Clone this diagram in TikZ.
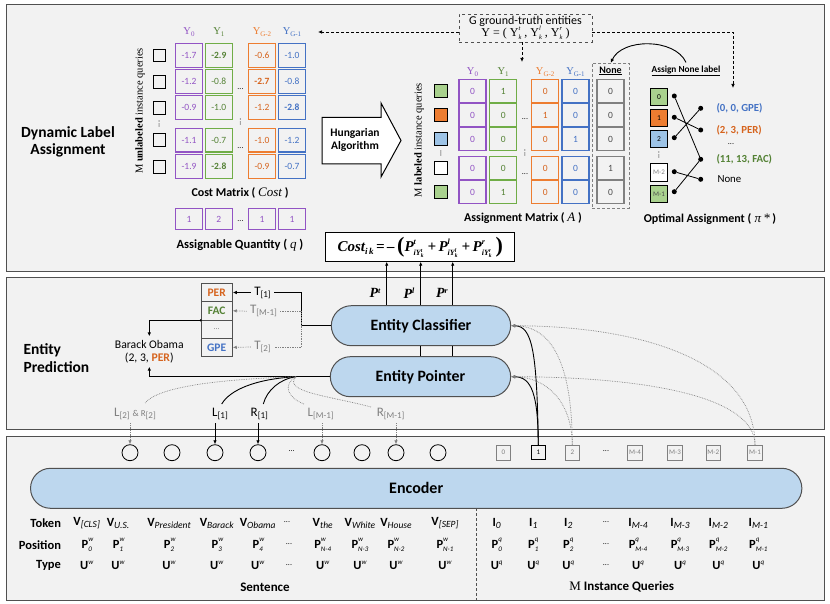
\documentclass[tikz,border=0pt]{standalone}
\usepackage{graphicx}
\usepackage{fontspec}
\setmainfont{Carlito}
\newfontfamily\serif{Liberation Serif}
\usetikzlibrary{arrows.meta,shapes.misc,calc}
\definecolor{bgc}{HTML}{F2F2F2}
\definecolor{pur}{RGB}{146,84,196}
\definecolor{grn}{RGB}{112,173,71}
\definecolor{grnT}{RGB}{84,130,53}
\definecolor{org}{RGB}{237,125,49}
\definecolor{orgT}{RGB}{214,100,30}
\definecolor{blu}{RGB}{68,114,196}
\definecolor{lblue}{RGB}{189,215,238}
\definecolor{qblue}{RGB}{157,195,230}
\definecolor{qgreen}{RGB}{169,209,142}
\definecolor{frame}{RGB}{80,80,80}
\definecolor{gtxt}{RGB}{128,128,128}
\newcommand\fs[1]{\fontsize{#1}{#1}\selectfont}
\newcommand\tk[2]{\textbf{#1}\raisebox{-2pt}{\fs{9.5}\itshape #2}}
\newcommand\ps[3]{\textbf{#1}\makebox[0pt][l]{\raisebox{6.5pt}{\fs{7}\itshape #2}}\raisebox{-3pt}{\fs{7}\itshape #3}}
\newcommand\ut[1]{\textbf{U}\raisebox{5pt}{\fs{7}\itshape #1}}
\newcommand\YK[1]{Y\makebox[0pt][l]{\raisebox{5.5pt}{\fs{6.5}\itshape #1}}\raisebox{-3.5pt}{\fs{6.5}\itshape k}}
\newcommand\sbt[1]{\raisebox{-1.5pt}{\fs{7}#1}}
\newcommand\sbb[1]{\raisebox{-2pt}{\fs{9}#1}}
\newcommand\Pq[1]{P\makebox[0pt][l]{\raisebox{7pt}{\fs{8}#1}}\raisebox{-4.5pt}{\fs{8}iY\makebox[0pt][l]{\raisebox{3.5pt}{\fs{5.5}#1}}\raisebox{-2pt}{\fs{5.5}k}}\hspace{4pt}}
\newcommand\costformula{{\serif\bfseries\itshape\fs{15}Cost\raisebox{-3pt}{\fs{9}i\,k}\,=\,–\,\raisebox{-1pt}{\upshape\fs{22}(}\Pq{t}+\,\Pq{l}+\,\Pq{r}\raisebox{-1pt}{\upshape\fs{22})}}}
\newcommand\bp[1]{{\serif\bfseries\itshape\fs{14}P\raisebox{4.5pt}{\fs{8}#1}}}
\begin{document}
\begin{tikzpicture}[x=1pt,y=-1pt,
  panel/.style={draw=frame,line width=1pt,fill=bgc},
  cell/.style={draw,line width=1.1pt,minimum width=27pt,minimum height=23.5pt,inner sep=0pt,font=\fs{9.5}},
  acell/.style={cell,minimum height=22.7pt},
  qcell/.style={draw,line width=0.7pt,minimum width=27pt,minimum height=21pt,inner sep=0pt,font=\fs{9.5}},
  qsq/.style={draw=black,line width=0.9pt,minimum size=12.7pt,inner sep=0pt},
  osq/.style={draw=black,line width=0.9pt,minimum size=17.7pt,inner sep=0pt,font=\fs{7.5}},
  hdr/.style={font=\serif\fs{10.5}},
  arr/.style={-{Latex[length=4pt,width=3.5pt]}},
  dotln/.style={densely dotted,gtxt,line width=0.7pt},
  blob/.style={rounded rectangle,draw=frame,line width=1pt,fill=lblue,font=\bfseries\fs{15.8}},
  circ/.style={circle,draw=black,line width=0.8pt,minimum size=16pt,inner sep=0pt},
  qbox/.style={draw=gtxt,line width=0.8pt,minimum size=14.5pt,inner sep=0pt,font=\fs{7},text=gtxt},
  dotpt/.style={circle,fill=black,inner sep=0pt,minimum size=5pt},
  tbl/.style={draw=frame,line width=0.8pt,minimum width=31.3pt,minimum height=18.3pt,inner sep=0pt,font=\bfseries\fs{11.5}},
  rowlab/.style={anchor=east,font=\bfseries\fs{12.5}},
  tokf/.style={font=\fs{12.5}},
  caption/.style={font=\bfseries\fs{12}},
  lrlab/.style={font=\fs{13}}]
\useasboundingbox (0,0) rectangle (830,604);
\fill[white] (0,0) rectangle (830,604);
\draw[panel] (6,5) rectangle (824,271);
\draw[panel] (6,277) rectangle (824,429);
\draw[panel] (6,436) rectangle (824,600);

% panel titles
\node[font=\bfseries\fs{15.5},align=center] (t1) at (68,142) {Dynamic Label\\[2pt]Assignment};
\node[font=\bfseries\fs{15.5},align=left,anchor=west] (t2) at (20,358) {Entity\\[2pt]Prediction};

% ---------- cost matrix ----------
\node[hdr,text=pur] (h0) at (189,32) {Y\sbt{0}};
\node[hdr,text=grnT] (h1) at (218.8,32) {Y\sbt{1}};
\node[hdr,text=org] (h2) at (262,32) {Y\sbt{G-2}};
\node[hdr,text=blu] (h3) at (292,32) {Y\sbt{G-1}};
\foreach \r/\y/\a/\b/\c/\d in {1/55.5/-1.7/{\bfseries -2.9}/-0.6/-1.0,
  2/81.7/-1.2/-0.8/{\bfseries -2.7}/-0.8,
  3/107.7/-0.9/-1.0/-1.2/{\bfseries -2.8},
  4/140.3/-1.1/-0.7/-1.0/-1.2,
  5/166.7/-1.9/{\bfseries -2.8}/-0.9/-0.7}{
  \node[qsq] (cq\r) at (159.3,\y) {};
  \node[cell,draw=pur,text=pur] (ca\r) at (189,\y) {\a};
  \node[cell,draw=grn,text=grnT] (cb\r) at (218.8,\y) {\b};
  \node[cell,draw=org,text=orgT] (cc\r) at (262,\y) {\c};
  \node[cell,draw=blu,text=blu] (cd\r) at (292,\y) {\d};
}
\node[font=\fs{8}] (cdot1) at (240.5,89) {...};
\node[font=\fs{8}] (cdot2) at (240.5,148) {...};
\node[font=\fs{8}] (cdot3) at (240.5,122) {\rotatebox{90}{...}};
\node[font=\fs{8}] (cdot4) at (159.3,124) {\rotatebox{90}{...}};
\node[rotate=90,font=\serif\fs{10.5}] (ml1) at (140,111) {M \textbf{unlabeled} instance queries};
\node[caption] (cml) at (240,193) {Cost Matrix ( {\serif\itshape\mdseries\fs{13}Cost} )};
% assignable quantity
\node[qcell,draw=pur,text=pur] (q1) at (189,219) {1};
\node[qcell,draw=pur,text=pur] (q2) at (218.8,219) {2};
\node[qcell,draw=pur,text=pur] (q3) at (262,219) {1};
\node[qcell,draw=pur,text=pur] (q4) at (292,219) {1};
\node[font=\fs{8}] (qdot) at (240.5,221) {...};
\node[caption,font=\bfseries\fs{12.5}] (qml) at (240,245) {Assignable Quantity ( {\serif\itshape\mdseries\fs{13}q} )};

% ---------- Hungarian arrow ----------
\draw[line width=1pt,fill=white] (322,117.5) -- (381,117.5) -- (381,103) -- (401,140.5) -- (381,177) -- (381,164) -- (322,164) -- cycle;
\node[font=\bfseries\fs{11.5},align=center] (hung) at (355,140) {Hungarian\\[1pt]Algorithm};

% ---------- ground truth ----------
\node[draw=frame,dashed,line width=0.8pt,minimum width=133pt,minimum height=28pt,align=center,inner sep=0pt] (gt) at (525.5,28) {{\fs{12}G ground-truth entities}\\[-1pt]{\serif\fs{12}Y = ( \YK{t} , \YK{l} , \YK{r} )}};
\coordinate (gtl) at (318,32);
\coordinate (gtl0) at (459,32);
\draw[arr,densely dashed,line width=0.7pt] (gtl0) -- (gtl);
\coordinate (gtb) at (522,62);
\draw[arr,densely dashed,line width=0.7pt] (gt.south -| gtb) -- (gtb);
\coordinate (gtr) at (733,88);
\coordinate (gtr0) at (592,32);
\draw[arr,densely dashed,line width=0.7pt] (gtr0) -| (gtr);

% ---------- assignment matrix ----------
\node[hdr,text=pur] (a0) at (472.5,72) {Y\sbt{0}};
\node[hdr,text=grnT] (a1) at (503.2,72) {Y\sbt{1}};
\node[hdr,text=org] (a2) at (545.2,72) {Y\sbt{G-2}};
\node[hdr,text=blu] (a3) at (575.5,72) {Y\sbt{G-1}};
\node[font=\bfseries\fs{10}] (anone) at (610.5,71) {\underline{None}};
\foreach \r/\y/\f/\a/\b/\c/\d/\e in {1/91.3/qgreen/0/1/0/0/0,
  2/115.3/org/0/0/1/0/0,
  3/139.3/qblue/0/0/0/1/0,
  4/168/white/0/0/0/0/1,
  5/192.3/qgreen/0/1/0/0/0}{
  \node[qsq,fill=\f] (aq\r) at (441,\y) {};
  \node[acell,draw=pur,text=pur] (aa\r) at (472.5,\y) {\a};
  \node[acell,draw=grn,text=grnT] (ab\r) at (503.2,\y) {\b};
  \node[acell,draw=org,text=orgT] (ac\r) at (545.2,\y) {\c};
  \node[acell,draw=blu,text=blu] (ad\r) at (575.5,\y) {\d};
  \node[acell,draw=gtxt,text=black!70] (ae\r) at (610.5,\y) {\e};
}
\node[draw=gtxt,densely dashed,line width=0.8pt,minimum width=37pt,minimum height=145pt,inner sep=0pt] (nonebox) at (610.8,135.8) {};
\node[font=\fs{8}] (adot1) at (525,119) {...};
\node[font=\fs{8}] (adot2) at (525,174) {...};
\node[font=\fs{8}] (adot3) at (525,153) {\rotatebox{90}{...}};
\node[font=\fs{8}] (adot4) at (441,153.5) {\rotatebox{90}{...}};
\node[rotate=90,font=\serif\fs{10.5}] (ml2) at (419,140) {M \textbf{labeled} instance queries};
\node[caption] (aml) at (523,218) {Assignment Matrix ( {\serif\itshape\mdseries\fs{13}A} )};

% ---------- optimal assignment ----------
\node[font=\bfseries\fs{9.3}] (anl) at (686,71) {\underline{Assign None label}};
\draw[arr,line width=0.9pt] (anl.north) .. controls (675,38) and (622,38) .. (nonebox.north);
\node[osq,fill=qgreen] (o0) at (659,97) {0};
\node[osq,fill=org] (o1) at (659,118) {1};
\node[osq,fill=qblue] (o2) at (659,139) {2};
\node[font=\fs{8}] (odot) at (659,155) {\rotatebox{90}{...}};
\node[osq,fill=white,text=gtxt,font=\fs{7}] (om2) at (659,172.5) {M-2};
\node[osq,fill=qgreen,text=black!70,font=\fs{7}] (om1) at (659,194) {M-1};
\node[dotpt] (l0) at (674.3,96) {};
\node[dotpt] (l1) at (674.3,117.3) {};
\node[dotpt] (l2) at (674.3,137.7) {};
\node[dotpt] (lm2) at (674.3,171.7) {};
\node[dotpt] (lm1) at (674.3,191.7) {};
\node[dotpt] (rg) at (700.7,108.3) {};
\node[dotpt] (rp) at (700.7,130) {};
\node[dotpt] (rf) at (700.7,159.3) {};
\node[dotpt] (rn) at (700.7,179.3) {};
\draw[line width=0.8pt] (l0) -- (rf) (l1) -- (rp) (l2) -- (rg) (lm2) -- (rn) (lm1) -- (rf);
\node[anchor=west,font=\bfseries\fs{10.8},text=blu] (og) at (713,108.3) {(0, 0, GPE)};
\node[anchor=west,font=\bfseries\fs{10.8},text=orgT] (op) at (713,130) {(2, 3, PER)};
\node[font=\fs{8}] (odots) at (731,144) {...};
\node[anchor=west,font=\bfseries\fs{10.8},text=grnT] (of) at (713,159.3) {(11, 13, FAC)};
\node[anchor=west,font=\fs{10.8}] (on) at (714,179.3) {None};
\node[caption] (oml) at (710,219) {Optimal Assignment ({\serif\itshape\mdseries\fs{13} π\,*} )};

% ---------- cost formula ----------
\node[draw=black,fill=white,line width=0.9pt,minimum width=189pt,minimum height=29pt,inner sep=1pt] (cf) at (420.3,247.2) {\costformula};
\coordinate (fa) at (386.7,261.7);
\coordinate (fb) at (420.7,261.7);
\coordinate (fc) at (452.7,261.7);

% ---------- entity classifier / pointer ----------
\node[blob,minimum width=186pt,minimum height=40pt] (cls) at (421,325.7) {Entity Classifier};
\node[blob,minimum width=187pt,minimum height=40pt] (ptr) at (420.5,376.7) {Entity Pointer};
\draw[arr,line width=0.9pt] (cls.north -| fa) -- (fa);
\draw[line width=0.9pt] (ptr.north -| fb) -- (cls.south -| fb);
\draw[line width=0.9pt] (ptr.north -| fc) -- (cls.south -| fc);
\draw[arr,line width=0.9pt] (cls.north -| fb) -- (fb);
\draw[arr,line width=0.9pt] (cls.north -| fc) -- (fc);
\node (pt) at (375,293) {\bp{t}};
\node (pl) at (409,293) {\bp{l}};
\node (pr) at (442,293) {\bp{r}};

% label table
\node[tbl,text=orgT] (per) at (216.7,292.5) {PER};
\node[tbl,text=grnT] (fac) at (216.7,310.8) {FAC};
\node[tbl,text=gtxt,font=\fs{8}] (tdd) at (216.7,329.1) {...};
\node[tbl,text=blu] (gpe) at (216.7,347.4) {GPE};
\node[lrlab] (T1) at (262.5,292.5) {T\sbb{[1]}};
\node[lrlab,text=gtxt] (Tm) at (263.5,311.2) {T\sbb{[M-1]}};
\node[lrlab,text=gtxt] (T2) at (262.5,347) {T\sbb{[2]}};
\coordinate (tj) at (301.7,325.7);
\draw[line width=0.9pt] (cls.west) -- (tj) |- (T1.east);
\draw[arr,line width=0.9pt] (T1.west) -- (per.east);
\draw[dotln] (tj) |- (Tm.east);
\draw[dotln] (tj) |- (T2.east);
\draw[arr,dotln] (Tm.west) -- (fac.east);
\draw[arr,dotln] (T2.west) -- (gpe.east);
\node[font=\fs{11.7}] (bo) at (149.3,344) {Barack Obama};
\node[font=\fs{11.7}] (bo2) at (149.3,358) {(2, 3, \textcolor{orgT}{\textbf{PER}})};
\fill (fac.south west) circle (1.2pt);
\draw[arr,line width=0.9pt] (fac.south west) -| (bo.north);
\draw[arr,line width=0.9pt] (ptr.west) -| (bo2.south);

% ---------- encoder ----------
\node[blob,minimum width=778pt,minimum height=40pt,font=\bfseries\fs{16}] (enc) at (416.2,488.3) {Encoder};
\foreach \i/\x in {1/130,2/172,3/215,4/258,5/322,6/362,7/396,8/438}
  \node[circ] (w\i) at (\x,452.7) {};
\node[font=\fs{8}] (wdot) at (291.7,451) {...};
\node[lrlab,text=gtxt] (L2) at (135,414) {L\sbb{[2]} \fs{9}\& R\sbb{[2]}};
\node[lrlab] (L1) at (220,414) {L\sbb{[1]}};
\node[lrlab] (R1) at (259.3,414) {R\sbb{[1]}};
\node[lrlab,text=gtxt] (Lm) at (320.7,414) {L\sbb{[M-1]}};
\node[lrlab,text=gtxt] (Rm) at (390.7,414) {R\sbb{[M-1]}};
\draw[arr,dotln] (L2.south -| w1) -- (w1.north);
\draw[arr,line width=0.9pt] (L1.south -| w3) -- (w3.north);
\draw[arr,line width=0.9pt] (R1.south -| w4) -- (w4.north);
\draw[arr,dotln] (Lm.south -| w5) -- (w5.north);
\draw[arr,dotln] (Rm.south -| w7) -- (w7.north);
% pointer to labels (branching from the pointer output line)
\coordinate (bp) at (296,376.7);
\coordinate (eL2) at (145,403);
\coordinate (eL1) at (221.7,404);
\coordinate (eR1) at (263.3,404);
\coordinate (eLm) at (304,404);
\coordinate (eRm) at (371,407);
\draw[line width=0.9pt] (bp) .. controls (255,379) and (230,390) .. (eL1);
\draw[line width=0.9pt] (bp) .. controls (280,379) and (267,390) .. (eR1);
\draw[dotln] (bp) .. controls (230,379) and (160,385) .. (eL2);
\draw[dotln] (bp) .. controls (282,385) and (288,398) .. (eLm);
\draw[dotln] (bp) .. controls (282,392) and (330,396) .. (eRm);

% query boxes
\foreach \n/\x/\t in {q0/503.3/0,q2/572.3/2,qm4/635/M-4,qm3/675/M-3,qm2/713.3/M-2,qm1/755/M-1}
  \node[qbox] (\n) at (\x,452.7) {\t};
\node[qbox,draw=black,text=black,line width=1pt] (q1b) at (538.3,452.7) {1};
\node[font=\fs{8}] (qbdot) at (606,451) {...};
\draw[arr,line width=0.9pt] (q1b.north) .. controls (537,350) and (532,326) .. (cls.east);
\draw[arr,line width=0.9pt] (q1b.north) .. controls (538,395) and (532,377) .. (ptr.east);
\draw[arr,dotln] (q2.north) .. controls (572,360) and (550,326) .. (cls.east);
\draw[arr,dotln] (q2.north) .. controls (572,400) and (545,377) .. (ptr.east);
\draw[arr,dotln] (qm1.north) .. controls (755,360) and (640,326) .. (cls.east);
\draw[arr,dotln] (qm1.north) .. controls (755,395) and (640,377) .. (ptr.east);

% ---------- bottom rows ----------
\node[rowlab] (rt) at (64.5,523.5) {Token};
\node[rowlab] (rp2) at (64.5,545) {Position};
\node[rowlab] (ru) at (64.5,565.5) {Type};
\foreach \n/\x/\v/\p in {1/86.7/{[CLS]}/0,2/118/{U.S.}/1,3/169/{President}/2,4/216.7/{Barack}/3,5/257.7/{Obama}/4,6/322.7/{the}/{N-4},7/360/{White}/{N-3},8/396/{House}/{N-2},9/445/{[SEP]}/{N-1}}{
  \node[tokf] (tv\n) at (\x,523.5) {\tk{V}{\v}};
  \node[tokf] (tp\n) at (\x,545) {\ps{P}{w}{\p}};
  \node[tokf] (tu\n) at (\x,565.5) {\ut{w}};
}
\node[font=\fs{8}] (sd1) at (287,522) {...};
\node[font=\fs{8}] (sd2) at (289,544) {...};
\node[font=\fs{8}] (sd3) at (289,565) {...};
\node[font=\bfseries\fs{13}] (sent) at (265,587) {Sentence};
\foreach \n/\x/\s in {1/496.7/0,2/533.3/1,3/568.3/2,4/638/{M-4},5/680/{M-3},6/718.3/{M-2},7/758.3/{M-1}}{
  \node[tokf] (iv\n) at (\x,523.5) {\tk{I}{\s}};
  \node[tokf] (ip\n) at (\x,545) {\ps{P}{q}{\s}};
  \node[tokf] (iu\n) at (\x,565.5) {\ut{q}};
}
\node[font=\fs{8}] (id1) at (606,522) {...};
\node[font=\fs{8}] (id2) at (606,544) {...};
\node[font=\fs{8}] (id3) at (606,565) {...};
\node[font=\bfseries\fs{13}] (iq) at (621.7,587) {{\serif\mdseries M} Instance Queries};
\coordinate (sep0) at (476,508.3);
\coordinate (sep1) at (476,600);
\draw[densely dashed,frame,line width=0.8pt] (sep0) -- (sep1);
\end{tikzpicture}
\end{document}
